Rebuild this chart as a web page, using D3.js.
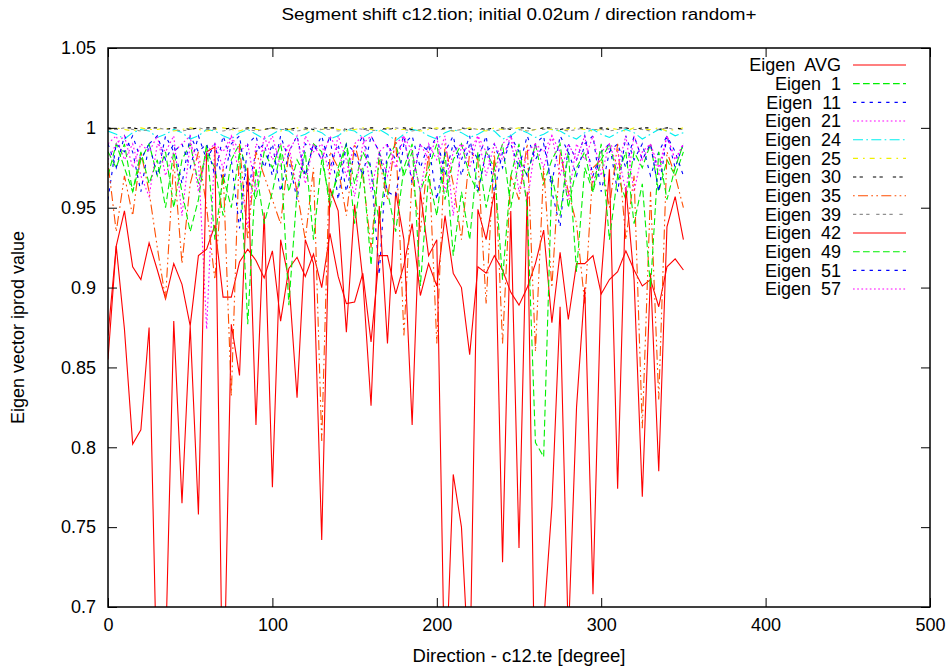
<!DOCTYPE html>
<html>
<head>
<meta charset="utf-8">
<script src="https://cdn.jsdelivr.net/npm/d3@7"></script>
<style>
body { margin: 0; background: #fff; }
svg text { font-family: "Liberation Sans", Arial, sans-serif; fill: #000; }
</style>
</head>
<body>
<div class="canvas"></div>
<script>
// direction in degrees, one sample every 5 degrees
const directions = [0,5,10,15,20,25,30,35,40,45,50,55,60,65,70,75,80,85,90,95,
	100,105,110,115,120,125,130,135,140,145,150,155,160,165,170,175,180,185,190,195,
	200,205,210,215,220,225,230,235,240,245,250,255,260,265,270,275,280,285,290,295,
	300,305,310,315,320,325,330,335,340,345,350];

const eigenAvg = [0.870,0.926,0.948,0.913,0.905,0.928,0.911,0.893,0.915,0.902,
	0.876,0.920,0.924,0.939,0.894,0.894,0.916,0.924,0.917,0.906,
	0.923,0.879,0.912,0.919,0.907,0.921,0.900,0.934,0.907,0.890,
	0.891,0.909,0.866,0.920,0.920,0.896,0.914,0.940,0.895,0.915,
	0.901,0.945,0.909,0.900,0.858,0.913,0.909,0.920,0.911,0.897,
	0.889,0.900,0.915,0.936,0.878,0.922,0.880,0.915,0.915,0.920,
	0.896,0.905,0.910,0.923,0.911,0.901,0.905,0.888,0.913,0.918,
	0.911];
const eigen1 = [0.985,0.975,0.990,0.960,0.980,0.990,0.970,0.985,0.950,0.980,
	0.990,0.965,0.985,0.975,0.945,0.980,0.990,0.970,0.955,0.985,
	0.975,0.990,0.960,0.980,0.970,0.990,0.985,0.950,0.975,0.990,
	0.965,0.985,0.975,0.940,0.980,0.990,0.970,0.985,0.960,0.975,
	0.990,0.955,0.980,0.990,0.970,0.960,0.985,0.975,0.990,0.950,
	0.980,0.970,0.990,0.965,0.980,0.990,0.950,0.975,0.985,0.960,
	0.980,0.990,0.970,0.955,0.985,0.975,0.990,0.960,0.980,0.970,
	0.985];
const eigen11 = [0.955,0.990,0.985,0.995,0.980,0.990,0.970,0.995,0.985,0.990,
	0.975,0.995,0.980,0.990,0.965,0.990,0.995,0.960,0.985,0.990,
	0.970,0.995,0.980,0.955,0.990,0.985,0.995,0.975,0.990,0.960,
	0.985,0.995,0.975,0.908,0.990,0.980,0.995,0.965,0.990,0.985,
	0.995,0.970,0.990,0.980,0.995,0.960,0.985,0.990,0.975,0.995,
	0.985,0.970,0.990,0.995,0.960,0.938,0.990,0.980,0.995,0.970,
	0.985,0.990,0.960,0.995,0.980,0.990,0.970,0.985,0.995,0.975,
	0.990];
const eigen21 = [0.990,0.995,0.980,0.990,0.970,0.957,0.990,0.985,0.995,0.945,
	0.990,0.980,0.874,0.990,0.985,0.995,0.970,0.938,0.990,0.985,
	0.995,0.975,0.990,0.960,0.995,0.985,0.990,0.970,0.995,0.980,
	0.957,0.990,0.995,0.985,0.970,0.990,0.995,0.967,0.990,0.980,
	0.995,0.960,0.985,0.990,0.975,0.995,0.985,0.970,0.990,0.995,
	0.980,0.953,0.990,0.985,0.995,0.970,0.990,0.980,0.995,0.965,
	0.985,0.990,0.975,0.995,0.960,0.985,0.990,0.970,0.995,0.980,
	0.990];
const eigen24 = [0.998,0.996,0.993,0.997,0.999,0.998,0.994,0.996,0.999,0.997,
	0.993,0.995,0.999,0.998,0.995,0.993,0.997,0.999,0.996,0.993,
	0.996,0.999,0.998,0.994,0.996,0.999,0.997,0.993,0.995,0.999,
	0.998,0.994,0.997,0.999,0.996,0.992,0.996,0.999,0.998,0.995,
	0.993,0.997,0.999,0.997,0.994,0.996,0.999,0.998,0.993,0.995,
	0.999,0.997,0.994,0.996,0.999,0.998,0.995,0.993,0.997,0.999,
	0.996,0.994,0.997,0.999,0.997,0.993,0.996,0.999,0.998,0.995,
	0.997];
const eigen25 = [0.999,1.000,0.999,0.998,1.000,0.999,0.999,1.000,0.998,0.999,
	1.000,0.999,0.998,0.999,1.000,0.999,0.998,1.000,0.999,0.999,
	1.000,0.998,0.999,1.000,0.999,0.998,0.999,1.000,0.999,0.998,
	0.999,1.000,0.999,0.998,1.000,0.999,0.999,1.000,0.998,0.999,
	1.000,0.999,0.998,0.999,1.000,0.999,0.998,1.000,0.999,0.999,
	1.000,0.998,0.999,1.000,0.999,0.998,0.999,1.000,0.999,0.998,
	0.999,1.000,0.999,0.998,1.000,0.999,0.999,1.000,0.998,0.999,
	1.000];
const eigen30 = [1.000,0.999,1.000,1.000,0.999,1.000,1.000,0.999,1.000,1.000,
	0.999,1.000,1.000,1.000,0.999,1.000,0.999,1.000,1.000,0.999,
	1.000,1.000,0.999,1.000,1.000,0.999,1.000,1.000,1.000,0.999,
	1.000,0.999,1.000,1.000,0.999,1.000,1.000,0.999,1.000,1.000,
	0.999,1.000,1.000,1.000,0.999,1.000,0.999,1.000,1.000,0.999,
	1.000,1.000,0.999,1.000,1.000,0.999,1.000,1.000,1.000,0.999,
	1.000,0.999,1.000,1.000,0.999,1.000,1.000,0.999,1.000,1.000,
	0.999];
const eigen35 = [0.978,0.935,0.970,0.945,0.985,0.960,0.925,0.893,0.980,0.915,
	0.965,0.985,0.950,0.905,0.975,0.832,0.990,0.930,0.985,0.970,
	0.955,0.940,0.985,0.960,0.930,0.975,0.804,0.985,0.975,0.945,
	0.990,0.970,0.925,0.980,0.955,0.995,0.870,0.970,0.935,0.985,
	0.865,0.990,0.965,0.930,0.985,0.980,0.890,0.985,0.865,0.970,
	0.955,0.990,0.860,0.975,0.900,0.985,0.960,0.940,0.890,0.975,
	0.980,0.950,0.990,0.930,0.970,0.812,0.960,0.830,0.985,0.970,
	0.950];
const eigen39 = [0.999,0.999,1.000,0.999,0.998,0.999,1.000,0.999,0.999,0.998,
	0.999,1.000,0.999,0.999,0.998,0.999,1.000,0.999,0.998,0.999,
	1.000,0.999,0.999,0.998,0.999,1.000,0.999,0.999,0.998,0.999,
	1.000,0.999,0.998,0.999,0.999,1.000,0.999,0.998,0.999,1.000,
	0.999,0.999,0.998,0.999,1.000,0.999,0.999,0.998,0.999,1.000,
	0.999,0.998,0.999,0.999,1.000,0.999,0.998,0.999,1.000,0.999,
	0.999,0.998,0.999,1.000,0.999,0.999,0.998,0.999,1.000,0.999,
	0.999];
const eigen42 = [0.855,0.926,0.874,0.802,0.811,0.875,0.640,0.670,0.879,0.765,
	0.876,0.758,0.985,0.988,0.620,0.877,0.845,0.975,0.814,0.947,
	0.775,0.930,0.905,0.831,0.930,0.915,0.742,0.962,0.948,0.872,
	0.952,0.905,0.826,0.951,0.865,0.960,0.930,0.814,0.960,0.920,
	0.930,0.640,0.783,0.750,0.650,0.949,0.930,0.960,0.728,0.948,
	0.737,0.960,0.620,0.690,0.763,0.888,0.680,0.825,0.900,0.708,
	0.905,0.974,0.774,0.963,0.905,0.769,0.909,0.785,0.938,0.957,
	0.930];
const eigen49 = [0.970,0.990,0.975,0.960,0.985,0.965,0.980,0.950,0.985,0.960,
	0.935,0.955,0.990,0.930,0.970,0.950,0.985,0.877,0.975,0.940,
	0.960,0.985,0.889,0.960,0.985,0.930,0.980,0.955,0.970,0.990,
	0.940,0.975,0.914,0.985,0.960,0.935,0.975,0.990,0.901,0.970,
	0.945,0.985,0.920,0.960,0.930,0.985,0.950,0.975,0.905,0.970,
	0.990,0.950,0.803,0.794,0.970,0.945,0.985,0.910,0.975,0.960,
	0.990,0.930,0.970,0.985,0.940,0.965,0.900,0.985,0.955,0.975,
	0.990];
const eigen51 = [0.990,0.975,0.995,0.985,0.960,0.990,0.995,0.980,0.990,0.965,
	0.995,0.985,0.990,0.970,0.995,0.980,0.937,0.990,0.995,0.975,
	0.990,0.960,0.985,0.995,0.970,0.990,0.980,0.995,0.955,0.990,
	0.985,0.970,0.995,0.985,0.960,0.957,0.990,0.995,0.975,0.990,
	0.955,0.985,0.995,0.970,0.990,0.980,0.995,0.960,0.985,0.990,
	0.975,0.995,0.980,0.990,0.965,0.995,0.985,0.970,0.990,0.995,
	0.960,0.985,0.990,0.975,0.995,0.980,0.990,0.960,0.995,0.985,
	0.970];
const eigen57 = [0.980,0.990,0.995,0.975,0.990,0.985,0.995,0.970,0.985,0.990,
	0.995,0.960,0.985,0.990,0.975,0.995,0.985,0.990,0.960,0.995,
	0.980,0.990,0.985,0.995,0.965,0.990,0.980,0.995,0.985,0.970,
	0.990,0.995,0.960,0.985,0.990,0.975,0.995,0.985,0.960,0.990,
	0.980,0.995,0.945,0.990,0.985,0.995,0.970,0.990,0.980,0.995,
	0.960,0.985,0.990,0.975,0.995,0.985,0.955,0.990,0.980,0.995,
	0.970,0.990,0.985,0.960,0.995,0.980,0.990,0.975,0.995,0.980,
	0.990];

const seriesNames = ["Eigen  AVG", "Eigen  1", "Eigen  11", "Eigen  21", "Eigen  24", "Eigen  25",
	"Eigen  30", "Eigen  35", "Eigen  39", "Eigen  42", "Eigen  49", "Eigen  51", "Eigen  57"];
const xTicks = [0, 100, 200, 300, 400, 500];
const yTicks = [0.7, 0.75, 0.8, 0.85, 0.9, 0.95, 1, 1.05];

// gnuplot postscript line types
const seriesValues = [eigenAvg, eigen1, eigen11, eigen21, eigen24, eigen25,
	eigen30, eigen35, eigen39, eigen42, eigen49, eigen51, eigen57];
const colors = ["#ff0000", "#00f000", "#0000ff", "#ff00ff", "#00f0f0", "#f0f000",
	"#000000", "#ff4d00", "#909090", "#ff0000", "#00f000", "#0000ff", "#ff00ff"];
const dashes = [null, "6.7,3.3", "3.3,5", "1.7,2.5", "10,3.3,1.7,3.3", "5,5,1.7,5",
	"3.3,3.3,3.3,10", "1.7,3.3,10,3.3,1.7,3.3", "3.3,3.3,3.3,3.3,3.3,6.7",
	null, "6.7,3.3", "3.3,5", "1.7,2.5"];

const dimensions = {
	width: 950,
	height: 668,
	left: 108,
	right: 930,
	top: 48,
	bottom: 607,
};

const svg = d3
	.select(".canvas")
	.append("svg")
	.attr("width", dimensions.width)
	.attr("height", dimensions.height);

const x = d3.scaleLinear().domain([0, 500]).range([dimensions.left, dimensions.right]);
const y = d3.scaleLinear().domain([0.7, 1.05]).range([dimensions.bottom, dimensions.top]);

svg.append("clipPath")
	.attr("id", "plot-clip")
	.append("rect")
	.attr("x", dimensions.left)
	.attr("y", dimensions.top)
	.attr("width", dimensions.right - dimensions.left)
	.attr("height", dimensions.bottom - dimensions.top);

const line = d3
	.line()
	.x((d, i) => x(directions[i]))
	.y((d) => y(d));

const lines = svg.append("g").attr("clip-path", "url(#plot-clip)");
seriesValues.forEach((values, k) => {
	lines.append("path")
		.attr("d", line(values))
		.attr("fill", "none")
		.attr("stroke", colors[k])
		.attr("stroke-width", 1.1)
		.attr("stroke-dasharray", dashes[k]);
});

// axes, ticks inward and mirrored like gnuplot
const fontSize = 18;
const xAxis = svg.append("g")
	.attr("transform", `translate(0, ${dimensions.bottom})`)
	.call(d3.axisBottom(x).tickValues(xTicks).tickSizeInner(-9).tickSizeOuter(0).tickPadding(11).tickFormat(String));
const xAxisTop = svg.append("g")
	.attr("transform", `translate(0, ${dimensions.top})`)
	.call(d3.axisTop(x).tickValues(xTicks).tickSizeInner(-9).tickSizeOuter(0).tickFormat(""));
const yAxis = svg.append("g")
	.attr("transform", `translate(${dimensions.left}, 0)`)
	.call(d3.axisLeft(y).tickValues(yTicks).tickSizeInner(-9).tickSizeOuter(0).tickPadding(12).tickFormat(String));
const yAxisRight = svg.append("g")
	.attr("transform", `translate(${dimensions.right}, 0)`)
	.call(d3.axisRight(y).tickValues(yTicks).tickSizeInner(-9).tickSizeOuter(0).tickFormat(""));

[xAxis, xAxisTop, yAxis, yAxisRight].forEach((g) => {
	g.select(".domain").remove();
	g.selectAll(".tick line").attr("stroke", "#000").attr("stroke-width", 1);
	g.selectAll("text")
		.attr("font-family", "Liberation Sans, Arial, sans-serif")
		.attr("font-size", fontSize);
});

svg.append("rect")
	.attr("x", dimensions.left)
	.attr("y", dimensions.top)
	.attr("width", dimensions.right - dimensions.left)
	.attr("height", dimensions.bottom - dimensions.top)
	.attr("fill", "none")
	.attr("stroke", "#000")
	.attr("stroke-width", 1.5);

// titles
const cx = (dimensions.left + dimensions.right) / 2;
svg.append("text")
	.attr("x", cx)
	.attr("y", 20)
	.attr("text-anchor", "middle")
	.attr("font-size", 17)
	.attr("textLength", 475)
	.attr("lengthAdjust", "spacingAndGlyphs")
	.text("Segment shift c12.tion; initial 0.02um / direction random+");
svg.append("text")
	.attr("x", cx)
	.attr("y", 662)
	.attr("text-anchor", "middle")
	.attr("font-size", 18.5)
	.text("Direction - c12.te [degree]");
svg.append("text")
	.attr("transform", `translate(24, ${(dimensions.top + dimensions.bottom) / 2}) rotate(-90)`)
	.attr("text-anchor", "middle")
	.attr("font-size", fontSize)
	.text("Eigen vector iprod value");

// legend
const legendGroup = svg.append("g").attr("transform", "translate(841, 65)");
const rows = legendGroup.selectAll("g")
	.data(seriesNames)
	.enter()
	.append("g")
	.attr("transform", (d, i) => `translate(0, ${i * 18.67})`);
rows.append("text")
	.attr("x", 0)
	.attr("y", 0)
	.attr("dy", "0.35em")
	.attr("text-anchor", "end")
	.attr("font-size", fontSize)
	.attr("xml:space", "preserve")
	.style("white-space", "pre")
	.text((d) => d);
rows.append("line")
	.attr("x1", 12)
	.attr("x2", 65)
	.attr("y1", 0)
	.attr("y2", 0)
	.attr("stroke", (d, i) => colors[i])
	.attr("stroke-width", 1.1)
	.attr("stroke-dasharray", (d, i) => dashes[i]);
</script>
</body>
</html>
